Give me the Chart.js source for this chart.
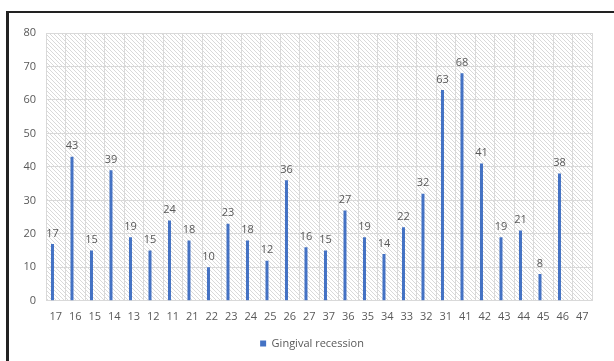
<!DOCTYPE html>
<html>
<head>
<meta charset="utf-8">
<script src="https://cdn.jsdelivr.net/npm/chart.js@4"></script>
<style>
  html, body { margin: 0; padding: 0; background: #fff; }
  #wrap { position: relative; width: 614px; height: 361px; overflow: hidden; }
  #frame { position: absolute; left: 6px; top: 11px; width: 700px; height: 400px;
           border-top: 2px solid #222; border-left: 3px solid #222; box-sizing: border-box; }
  canvas { position: absolute; left: 0; top: 0; }
</style>
</head>
<body>
<div id="wrap">
  <div id="frame"></div>
  <canvas id="c" width="614" height="361"></canvas>
</div>
<script>
const categories = ['17','16','15','14','13','12','11','21','22','23','24','25','26','27','37','36','35','34','33','32','31','41','42','43','44','45','46','47'];
const recession = [17,43,15,39,19,15,24,18,10,23,18,12,36,16,15,27,19,14,22,32,63,68,41,19,21,8,38,null];
const emptySeries = categories.map(() => null);
const yTicks = [0,10,20,30,40,50,60,70,80];

const FONT = '"Open Sans", "Liberation Sans", sans-serif';
const TXT = '#595959';

function makePattern() {
  const p = document.createElement('canvas');
  p.width = 4; p.height = 4;
  const g = p.getContext('2d');
  g.fillStyle = '#ffffff';
  g.fillRect(0, 0, 4, 4);
  g.fillStyle = '#d9d9d9';
  for (let i = 0; i < 4; i++) g.fillRect(i, i, 1, 1);
  return p;
}

const hatchPlugin = {
  id: 'hatch',
  afterLayout(chart) {
    if (chart.legend) { chart.legend.left += 16; chart.legend.right += 16; }
  },
  beforeDraw(chart) {
    const { ctx, chartArea: a } = chart;
    ctx.save();
    ctx.fillStyle = ctx.createPattern(makePattern(), 'repeat');
    ctx.fillRect(a.left, a.top, a.right - a.left, a.bottom - a.top);
    ctx.restore();
  }
};

const labelPlugin = {
  id: 'valueLabels',
  afterDatasetsDraw(chart) {
    const { ctx } = chart;
    const meta = chart.getDatasetMeta(0);
    ctx.save();
    ctx.font = '11px ' + FONT;
    ctx.fillStyle = TXT;
    ctx.textAlign = 'center';
    ctx.textBaseline = 'bottom';
    meta.data.forEach((bar, i) => {
      const v = recession[i];
      if (v === null || v === undefined) return;
      ctx.fillText(String(v), bar.x, bar.y - 5);
    });
    ctx.restore();
  }
};

new Chart(document.getElementById('c'), {
  type: 'bar',
  data: {
    labels: categories,
    datasets: [
      { label: 'Gingival recession', data: recession, backgroundColor: '#4472C4', borderWidth: 0 },
      { label: 'hidden', data: emptySeries, backgroundColor: '#ED7D31' }
    ]
  },
  options: {
    responsive: false,
    animation: false,
    devicePixelRatio: 1,
    categoryPercentage: 0.67,
    barPercentage: 0.46,
    layout: { padding: { left: 0, right: 22, top: 33, bottom: 2 } },
    plugins: {
      legend: {
        position: 'bottom',
        labels: {
          filter: (item) => item.datasetIndex === 0,
          boxWidth: 6, boxHeight: 6,
          font: { size: 11, family: FONT },
          color: TXT,
          padding: 6
        }
      },
      tooltip: { enabled: false }
    },
    scales: {
      x: {
        grid: { color: '#d9d9d9', offset: true, drawTicks: false },
        border: { color: '#d9d9d9' },
        ticks: { color: TXT, font: { size: 11, family: FONT }, padding: 9, maxRotation: 0, autoSkip: false }
      },
      y: {
        min: 0, max: 80,
        afterBuildTicks: (s) => { s.ticks = yTicks.map(v => ({ value: v })); },
        afterFit: (s) => { s.width = 46; },
        grid: { color: '#d9d9d9', drawTicks: false },
        border: { display: false },
        ticks: { color: TXT, font: { size: 11, family: FONT }, padding: 10 }
      }
    }
  },
  plugins: [hatchPlugin, labelPlugin]
});
</script>
</body>
</html>
